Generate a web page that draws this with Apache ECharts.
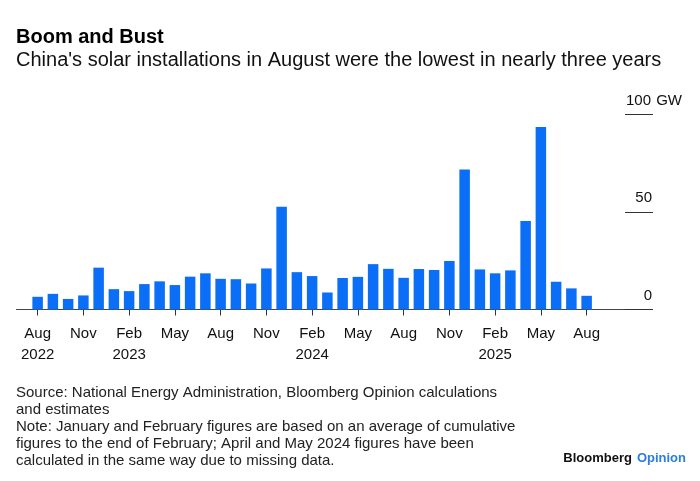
<!DOCTYPE html>
<html>
<head>
<meta charset="utf-8">
<script src="https://cdn.jsdelivr.net/npm/echarts@6/dist/echarts.min.js"></script>
<style>
html,body{margin:0;padding:0;background:#fff;}
#c{width:700px;height:481px;}
</style>
</head>
<body>
<div id="c"></div>
<script>
const categories = ['Aug 2022','Sep 2022','Oct 2022','Nov 2022','Dec 2022',
  'Jan 2023','Feb 2023','Mar 2023','Apr 2023','May 2023','Jun 2023','Jul 2023','Aug 2023','Sep 2023','Oct 2023','Nov 2023','Dec 2023',
  'Jan 2024','Feb 2024','Mar 2024','Apr 2024','May 2024','Jun 2024','Jul 2024','Aug 2024','Sep 2024','Oct 2024','Nov 2024','Dec 2024',
  'Jan 2025','Feb 2025','Mar 2025','Apr 2025','May 2025','Jun 2025','Jul 2025','Aug 2025'];
const installationsGW = [6.5, 8.0, 5.4, 7.2, 21.4,
  10.4, 9.4, 13.0, 14.4, 12.5, 16.8, 18.5, 15.7, 15.5, 13.3, 21.0, 52.5,
  19.1, 17.1, 8.7, 16.1, 16.7, 23.2, 20.8, 16.2, 20.7, 20.2, 24.8, 71.6,
  20.5, 18.5, 20.0, 45.3, 93.3, 14.2, 10.8, 7.0];
const xTickLabels = ['Aug\n2022','Nov','Feb\n2023','May','Aug','Nov','Feb\n2024','May','Aug','Nov','Feb\n2025','May','Aug'];
const yTicks = [0, 50, 100];
const yUnit = 'GW';

const FONT = '"Liberation Sans", Arial, sans-serif';
const chart = echarts.init(document.getElementById('c'), null, {renderer: 'canvas'});

const gridTop = 114, gridBottom = 171.5;
const barLeft = 30, barWidthTotal = 564.25;
const yAxisX = 625;

chart.setOption({
  animation: false,
  backgroundColor: '#fff',
  textStyle: {fontFamily: FONT},
  title: [
    {text: 'Boom and Bust', left: 16, top: 27, padding: 0,
     textStyle: {fontFamily: FONT, fontSize: 20, fontWeight: 'bold', color: '#000'}},
    {text: "China's solar installations in August were the lowest in nearly three years", left: 16, top: 50, padding: 0,
     textStyle: {fontFamily: FONT, fontSize: 20, fontWeight: 'normal', color: '#111'}},
    {text: 'Source: National Energy Administration, Bloomberg Opinion calculations\nand estimates\nNote: January and February figures are based on an average of cumulative\nfigures to the end of February; April and May 2024 figures have been\ncalculated in the same way due to missing data.',
     left: 16, top: 384.5, padding: 0,
     textStyle: {fontFamily: FONT, fontSize: 15, fontWeight: 'normal', color: '#222', lineHeight: 17}},
    {text: '{b|Bloomberg} {o|Opinion}', right: 14, top: 449, padding: 0,
     textStyle: {rich: {
       b: {fontFamily: FONT, fontSize: 13, fontWeight: 'bold', color: '#111'},
       o: {fontFamily: FONT, fontSize: 13, fontWeight: 'bold', color: '#2a7de1'}
     }}}
  ],
  grid: [
    {left: barLeft, width: barWidthTotal, top: gridTop, bottom: gridBottom},
    {left: 16.5, right: 48, top: gridTop, bottom: gridBottom}
  ],
  xAxis: [
    {type: 'category', gridIndex: 0, data: categories,
     axisLine: {show: false},
     axisTick: {show: true, alignWithLabel: true, interval: 2, length: 6, lineStyle: {color: '#333', width: 1}},
     axisLabel: {interval: 2, margin: 14, fontFamily: FONT, fontSize: 15, color: '#111', lineHeight: 21,
       formatter: (v, i) => xTickLabels[Math.round(i / 3)]}
    },
    {type: 'value', gridIndex: 1, min: 0, max: 1,
     axisLine: {show: true, lineStyle: {color: '#444', width: 1.2}},
     axisTick: {show: false}, axisLabel: {show: false}, splitLine: {show: false}}
  ],
  yAxis: [
    {type: 'value', gridIndex: 0, min: 0, max: 100, interval: 50, position: 'right',
     offset: yAxisX - (barLeft + barWidthTotal),
     axisLine: {show: false},
     axisTick: {show: true, length: 28, lineStyle: {color: '#333', width: 1}},
     splitLine: {show: false},
     axisLabel: {margin: 0, align: 'left', verticalAlign: 'bottom', padding: [0, 0, 6, 0],
       fontFamily: FONT, fontSize: 15, color: '#111',
       formatter: v => v === yTicks[yTicks.length - 1] ? '{n|' + v + '}{u| ' + yUnit + '}' : '{n|' + v + '}',
       rich: {n: {fontFamily: FONT, fontSize: 15, color: '#111', width: 27, align: 'right'},
              u: {fontFamily: FONT, fontSize: 15, color: '#111'}}}
    },
    {type: 'value', gridIndex: 1, min: 0, max: 100, show: false}
  ],
  series: [
    {type: 'bar', xAxisIndex: 0, yAxisIndex: 0, data: installationsGW, barWidth: 10.5,
     itemStyle: {color: '#0a6ef6'}}
  ]
});
</script>
</body>
</html>
